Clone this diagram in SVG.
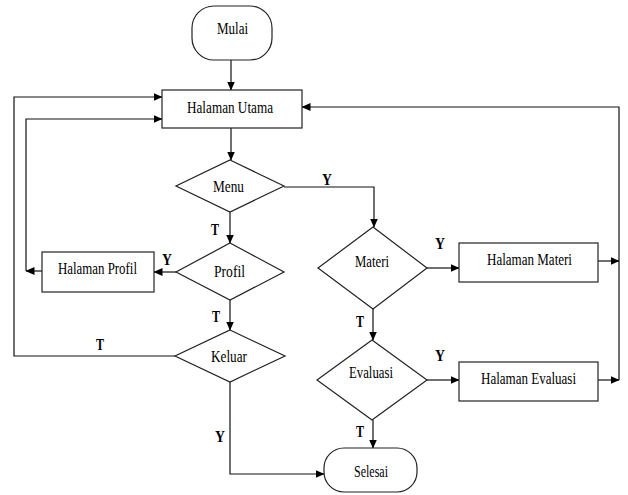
<svg xmlns="http://www.w3.org/2000/svg" width="628" height="495" viewBox="0 0 628 495">
<style>
.s{fill:#fff;stroke:#222;stroke-width:1.2}
.t{font-family:"Liberation Serif","Times New Roman",serif;font-size:16px;fill:#000}
.l{font-family:"Liberation Serif","Times New Roman",serif;font-size:16px;font-weight:bold;fill:#000}
.c{fill:none;stroke:#111;stroke-width:1.2}
</style>
<defs>
<marker id="a" markerWidth="9" markerHeight="8" refX="8.5" refY="4" orient="auto" markerUnits="userSpaceOnUse">
<path d="M0,0 L9,4 L0,8 Z" fill="#000"/>
</marker>
</defs>
<rect width="628" height="495" fill="#fff"/>
<g id="connectors">
<path class="c" d="M231,60 V90" marker-end="url(#a)"/>
<path class="c" d="M231,128 V160" marker-end="url(#a)"/>
<path class="c" d="M284,187 H374 V227" marker-end="url(#a)"/>
<path class="c" d="M230,212 V243" marker-end="url(#a)"/>
<path class="c" d="M176,272 H154" marker-end="url(#a)"/>
<path class="c" d="M42,271 H26" marker-end="url(#a)"/>
<path class="c" d="M26,271 V119 H162" marker-end="url(#a)"/>
<path class="c" d="M230,300 V330" marker-end="url(#a)"/>
<path class="c" d="M175,356 H14 V97 H162" marker-end="url(#a)"/>
<path class="c" d="M230,382 V474 H324" marker-end="url(#a)"/>
<path class="c" d="M427,268 H459" marker-end="url(#a)"/>
<path class="c" d="M598,261 H619" marker-end="url(#a)"/>
<path class="c" d="M373,309 V340" marker-end="url(#a)"/>
<path class="c" d="M427,380 H459" marker-end="url(#a)"/>
<path class="c" d="M598,380 H619" marker-end="url(#a)"/>
<path class="c" d="M619,380 V107 H302" marker-end="url(#a)"/>
<path class="c" d="M373,420 V448" marker-end="url(#a)"/>
<text class="l" x="322" y="185" textLength="10" lengthAdjust="spacingAndGlyphs">Y</text>
<text class="l" x="211" y="235" textLength="8" lengthAdjust="spacingAndGlyphs">T</text>
<text class="l" x="162" y="265" textLength="10" lengthAdjust="spacingAndGlyphs">Y</text>
<text class="l" x="212" y="322" textLength="8" lengthAdjust="spacingAndGlyphs">T</text>
<text class="l" x="96" y="350" textLength="8" lengthAdjust="spacingAndGlyphs">T</text>
<text class="l" x="215" y="442" textLength="10" lengthAdjust="spacingAndGlyphs">Y</text>
<text class="l" x="435" y="249" textLength="10" lengthAdjust="spacingAndGlyphs">Y</text>
<text class="l" x="356" y="327" textLength="8" lengthAdjust="spacingAndGlyphs">T</text>
<text class="l" x="435" y="361" textLength="10" lengthAdjust="spacingAndGlyphs">Y</text>
<text class="l" x="356" y="437" textLength="8" lengthAdjust="spacingAndGlyphs">T</text>
</g>
<g id="mulai">
<rect class="s" x="192" y="6" width="80" height="54" rx="22" ry="22"/>
<text class="t" x="217" y="34" textLength="31" lengthAdjust="spacingAndGlyphs">Mulai</text>
</g>
<g id="halaman-utama">
<rect class="s" x="162" y="90" width="140" height="38"/>
<text class="t" x="187" y="113" textLength="86" lengthAdjust="spacingAndGlyphs">Halaman Utama</text>
</g>
<g id="menu">
<polygon class="s" points="230,160 284,186 230,212 176,186"/>
<text class="t" x="213" y="192" textLength="31" lengthAdjust="spacingAndGlyphs">Menu</text>
</g>
<g id="profil">
<polygon class="s" points="230,243 284,272 230,300 176,272"/>
<text class="t" x="214" y="277" textLength="31" lengthAdjust="spacingAndGlyphs">Profil</text>
</g>
<g id="halaman-profil">
<rect class="s" x="42" y="252" width="112" height="40"/>
<text class="t" x="58" y="274" textLength="79" lengthAdjust="spacingAndGlyphs">Halaman Profil</text>
</g>
<g id="keluar">
<polygon class="s" points="230,330 285,356 230,382 175,356"/>
<text class="t" x="211" y="362" textLength="36" lengthAdjust="spacingAndGlyphs">Keluar</text>
</g>
<g id="materi">
<polygon class="s" points="373,227 427,268 373,309 318,268"/>
<text class="t" x="355" y="267" textLength="34" lengthAdjust="spacingAndGlyphs">Materi</text>
</g>
<g id="halaman-materi">
<rect class="s" x="459" y="243" width="139" height="39"/>
<text class="t" x="487" y="265" textLength="85" lengthAdjust="spacingAndGlyphs">Halaman Materi</text>
</g>
<g id="evaluasi">
<polygon class="s" points="372,340 427,380 372,420 317,380"/>
<text class="t" x="349" y="378" textLength="44" lengthAdjust="spacingAndGlyphs">Evaluasi</text>
</g>
<g id="halaman-evaluasi">
<rect class="s" x="459" y="362" width="139" height="39"/>
<text class="t" x="481" y="384" textLength="95" lengthAdjust="spacingAndGlyphs">Halaman Evaluasi</text>
</g>
<g id="selesai">
<rect class="s" x="324" y="448" width="93" height="44" rx="20" ry="20"/>
<text class="t" x="354" y="477" textLength="34" lengthAdjust="spacingAndGlyphs">Selesai</text>
</g>
</svg>
